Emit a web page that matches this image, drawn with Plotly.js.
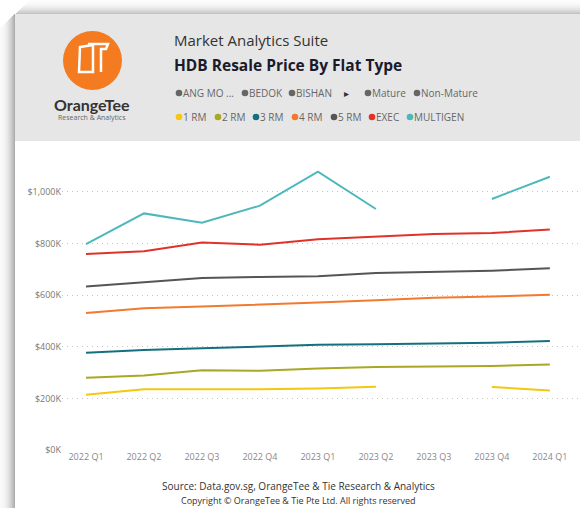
<!DOCTYPE html>
<html><head><meta charset="utf-8">
<script src="https://cdn.plot.ly/plotly-3.0.1.min.js"></script>
<style>html,body{margin:0;padding:0;background:#fff;}#c{width:580px;height:508px;}</style>
</head><body><div id="c"></div>
<script>
const quarters = ['2022 Q1','2022 Q2','2022 Q3','2022 Q4','2023 Q1','2023 Q2','2023 Q3','2023 Q4','2024 Q1'];
const rm1 = [214,235,235,235,238,245,null,244,231];
const rm2 = [280,289,309,307,316,322,324,326,331];
const rm3 = [377,388,394,400,408,410,413,416,422];
const rm4 = [531,549,556,565,572,580,590,595,602];
const rm5 = [634,650,667,671,673,686,690,695,704];
const execRm = [760,770,804,796,817,827,837,841,855];
const multigen = [798,917,881,947,1079,934,null,973,1059];
const seriesNames = ['1 RM','2 RM','3 RM','4 RM','5 RM','EXEC','MULTIGEN'];
const seriesColors = ['#F2C811','#A8A825','#14707E','#F2792F','#555555','#E0322B','#4DB8BC'];
const seriesData = [rm1,rm2,rm3,rm4,rm5,execRm,multigen];
const tickVals = [0,200,400,600,800,1000];
const tickText = ['$0K','$200K','$400K','$600K','$800K','$1,000K'];
const slicerItems = ['ANG MO ...','BEDOK','BISHAN','Mature','Non-Mature'];

const W=580,H=508,L=62,R=0,T=160,B=58;
const pw=W-L-R, ph=H-T-B;
const X=x=>(x-L)/pw, Y=y=>(H-B-y)/ph;

const traces = seriesData.map((d,i)=>({
  x: quarters, y: d, type:'scatter', mode:'lines', name: seriesNames[i],
  line:{color:seriesColors[i], width:2}, connectgaps:false, hoverinfo:'skip'
}));

const shapes = [];
for(let i=0;i<15;i++){
  const a = 0.02 + 0.3*Math.pow(i/14,2);
  shapes.push({type:'rect',xref:'paper',yref:'paper',x0:X(i),x1:X(i+1),y0:Y(508),y1:Y(14+(14-i)),fillcolor:'rgba(0,0,0,'+a.toFixed(3)+')',line:{width:0},layer:'below'});
}
for(let i=0;i<14;i++){
  const a = 0.01 + 0.22*Math.pow(i/13,2);
  shapes.push({type:'rect',xref:'paper',yref:'paper',x0:X(15+(14-i)),x1:X(580),y0:Y(i+1),y1:Y(i),fillcolor:'rgba(0,0,0,'+a.toFixed(3)+')',line:{width:0},layer:'below'});
}
shapes.push({type:'rect',xref:'paper',yref:'paper',x0:X(15),x1:X(580),y0:Y(141),y1:Y(14),fillcolor:'#E6E6E6',line:{width:0},layer:'below'});
shapes.push({type:'circle',xref:'paper',yref:'paper',x0:X(63),x1:X(122),y0:Y(90),y1:Y(31),fillcolor:'#F47B20',line:{width:0},layer:'below'});
shapes.push({type:'path',xref:'paper',yref:'paper',
  path:'M'+X(80)+','+Y(47)+' L'+X(93)+','+Y(45)+' L'+X(93)+','+Y(72)+' L'+X(79)+','+Y(72)+' Z',
  line:{color:'#fff',width:2.5},fillcolor:'rgba(0,0,0,0)',layer:'above'});
shapes.push({type:'path',xref:'paper',yref:'paper',
  path:'M'+X(88)+','+Y(44)+' L'+X(108)+','+Y(44)+' L'+X(106)+','+Y(49)+' L'+X(101)+','+Y(49)+' L'+X(101)+','+Y(72),
  line:{color:'#fff',width:2.5},fillcolor:'rgba(0,0,0,0)',layer:'above'});

const ann = [];
const font='"Open Sans", "Noto Sans", sans-serif';
function dot(cx,cy,color){
  shapes.push({type:'circle',xref:'paper',yref:'paper',x0:X(cx-3.3),x1:X(cx+3.3),y0:Y(cy+3.3),y1:Y(cy-3.3),fillcolor:color,line:{width:0},layer:'above'});
}
ann.push({xref:'paper',yref:'paper',x:X(92),y:Y(104),text:'<b>OrangeTee</b>',showarrow:false,xanchor:'center',yanchor:'middle',font:{family:'Lato, sans-serif',size:16,color:'#333'}});
ann.push({xref:'paper',yref:'paper',x:X(92),y:Y(118),text:'Research &amp; Analytics',showarrow:false,xanchor:'center',yanchor:'middle',font:{family:font,size:7,color:'#666'}});
ann.push({xref:'paper',yref:'paper',x:X(172),y:Y(40),text:'Market Analytics Suite',showarrow:false,xanchor:'left',yanchor:'middle',font:{family:font,size:15,color:'#333'}});
ann.push({xref:'paper',yref:'paper',x:X(172),y:Y(65),text:'<b>HDB Resale Price By Flat Type</b>',showarrow:false,xanchor:'left',yanchor:'middle',font:{family:font,size:15.5,color:'#1a1a2a'}});
const row1x=[179,245,292,368,417];
slicerItems.forEach((t,i)=>{
  dot(row1x[i],93,'#666');
  ann.push({xref:'paper',yref:'paper',x:X(row1x[i]+2),y:Y(93),text:t,showarrow:false,xanchor:'left',yanchor:'middle',font:{family:font,size:10,color:'#666'}});
});
ann.push({xref:'paper',yref:'paper',x:X(346),y:Y(93),text:'▸',showarrow:false,xanchor:'center',yanchor:'middle',font:{family:'DejaVu Sans',size:10,color:'#333'}});
const row2x=[179,218,256,295,334,372,410];
seriesNames.forEach((t,i)=>{
  dot(row2x[i],117,seriesColors[i]);
  ann.push({xref:'paper',yref:'paper',x:X(row2x[i]+2),y:Y(117),text:t,showarrow:false,xanchor:'left',yanchor:'middle',font:{family:font,size:10,color:'#666'}});
});
ann.push({xref:'paper',yref:'paper',x:X(298),y:Y(486),text:'Source: Data.gov.sg, OrangeTee &amp; Tie Research &amp; Analytics',showarrow:false,xanchor:'center',yanchor:'middle',font:{family:font,size:10,color:'#333'}});
ann.push({xref:'paper',yref:'paper',x:X(298),y:Y(500),text:'Copyright © OrangeTee &amp; Tie Pte Ltd. All rights reserved',showarrow:false,xanchor:'center',yanchor:'middle',font:{family:font,size:9,color:'#333'}});

const layout = {
  width:W,height:H,margin:{l:L,r:R,t:T,b:B,pad:0},
  paper_bgcolor:'#fff',plot_bgcolor:'rgba(0,0,0,0)',showlegend:false,
  xaxis:{type:'category',range:[-0.414,8.52],showgrid:false,zeroline:false,showline:false,ticks:'',
    tickfont:{family:font,size:9,color:'#888'},fixedrange:true},
  yaxis:{range:[0,1124],tickvals:tickVals,ticktext:tickText,showgrid:true,gridcolor:'#C4C4C4',griddash:'1px,4px',gridwidth:1,
    zeroline:false,showline:false,ticks:'',tickfont:{family:font,size:9,color:'#777'},fixedrange:true},
  shapes:shapes,annotations:ann
};
Plotly.newPlot('c',traces,layout,{staticPlot:true,displayModeBar:false});
</script></body></html>
